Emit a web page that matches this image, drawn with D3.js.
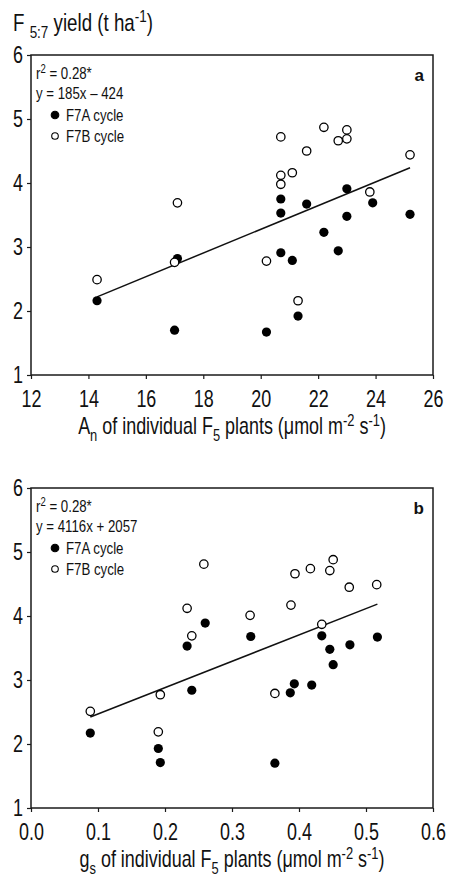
<!DOCTYPE html>
<html>
<head>
<meta charset="utf-8">
<script src="https://cdn.jsdelivr.net/npm/d3@7"></script>
<style>
    body { margin: 0; background: #fff; }
    text { font-family: "Liberation Sans", Arial, sans-serif; fill: #111; }
</style>
</head>
<body>
<svg id="chart" width="450" height="880"></svg>
<script>
// Panel a: F5:7 yield against A_n of F5 plants
const anF7A = [14.3, 17.1, 20.7, 20.7, 20.7, 21.1, 21.6, 22.2, 22.7, 23.0, 23.0, 23.9, 25.2, 17.0, 20.2, 21.3];
const yieldAnF7A = [2.16, 2.82, 3.75, 3.53, 2.91, 2.79, 3.67, 3.23, 2.94, 3.91, 3.48, 3.69, 3.51, 1.7, 1.67, 1.92];
const anF7B = [14.3, 17.1, 17.0, 20.2, 20.7, 20.7, 20.7, 21.1, 21.6, 22.2, 22.7, 23.0, 23.0, 23.8, 25.2, 21.3];
const yieldAnF7B = [2.49, 3.69, 2.76, 2.78, 4.72, 4.12, 3.98, 4.16, 4.5, 4.87, 4.66, 4.83, 4.69, 3.86, 4.44, 2.16];

// Panel b: F5:7 yield against g_s of F5 plants
const gsF7A = [0.26, 0.233, 0.328, 0.24, 0.434, 0.446, 0.451, 0.476, 0.517, 0.393, 0.387, 0.419, 0.0885, 0.19, 0.193, 0.364];
const yieldGsF7A = [3.89, 3.53, 3.68, 2.84, 3.69, 3.48, 3.24, 3.55, 3.67, 2.94, 2.8, 2.92, 2.17, 1.93, 1.71, 1.7];
const gsF7B = [0.258, 0.233, 0.327, 0.394, 0.417, 0.446, 0.451, 0.475, 0.516, 0.388, 0.434, 0.24, 0.0885, 0.193, 0.19, 0.364];
const yieldGsF7B = [4.81, 4.12, 4.01, 4.66, 4.74, 4.71, 4.88, 4.45, 4.49, 4.17, 3.87, 3.69, 2.51, 2.77, 2.19, 2.79];

// regression fits, kg/ha: [slope, intercept]
const fitAn = [185, -424];
const fitGs = [4116, 2057];

const anTicks = [12, 14, 16, 18, 20, 22, 24, 26];
const gsTicks = [0, 0.1, 0.2, 0.3, 0.4, 0.5, 0.6];
const yieldTicks = [1, 2, 3, 4, 5, 6];

const seriesNames = ["F7A cycle", "F7B cycle"];

// no condensed font installed, so squeeze Liberation Sans horizontally
const SX = 0.78;

const svg = d3.select("#chart");

// text with sub / superscript pieces: [[text, "sub" | "sup" | undefined], ...]
const richText = (sel, parts, fontSize) => {
    let offset = 0;
    parts.forEach(([str, kind]) => {
        const target = kind == "sub" ? fontSize * 0.3 : kind == "sup" ? -fontSize * 0.36 : 0;
        sel.append("tspan")
            .attr("dy", target - offset)
            .attr("font-size", kind ? fontSize * 0.72 : fontSize)
            .text(str);
        offset = target;
    });
    return sel;
};

// narrow text placed at x, y
const narrowText = (parent, x, y) =>
    parent.append("text").attr("transform", `translate(${x},${y}) scale(${SX},1)`);

const drawPanel = (opts) => {
    const { top, bottom, left, right, xDomain, xTicks, xFormat, f7aX, f7aY, f7bX, f7bY, fit, fitText, label, xTitle } = opts;

    const g = svg.append("g").attr("class", "panel");

    const xScale = d3.scaleLinear().domain(xDomain).range([left, right]);
    const yScale = d3.scaleLinear().domain([1, 6]).range([bottom, top]);

    // frame
    g.append("rect")
        .attr("x", left)
        .attr("y", top)
        .attr("width", right - left)
        .attr("height", bottom - top)
        .attr("fill", "none")
        .attr("stroke", "#1a1a1a")
        .attr("stroke-width", 1.5);

    const xAxis = g
        .append("g")
        .attr("class", "x-axis")
        .attr("transform", `translate(0,${bottom})`)
        .call(d3.axisBottom(xScale).tickValues(xTicks).tickFormat(xFormat).tickSize(4).tickPadding(12).tickSizeOuter(0));
    xAxis.select(".domain").remove();
    xAxis.selectAll("line").attr("stroke", "#1a1a1a").attr("stroke-width", 1.2);
    xAxis
        .selectAll("text")
        .attr("font-size", 23)
        .attr("fill", "#111")
        .attr("font-family", null)
        .attr("transform", `scale(${SX},1)`);

    const yAxis = g
        .append("g")
        .attr("class", "y-axis")
        .attr("transform", `translate(${left},0)`)
        .call(d3.axisLeft(yScale).tickValues(yieldTicks).tickFormat(d3.format("d")).tickSize(4).tickPadding(4).tickSizeOuter(0));
    yAxis.select(".domain").remove();
    yAxis.selectAll("line").attr("stroke", "#1a1a1a").attr("stroke-width", 1.2);
    yAxis
        .selectAll("text")
        .attr("font-size", 23)
        .attr("fill", "#111")
        .attr("font-family", null)
        .attr("x", -8 / SX)
        .attr("transform", `scale(${SX},1)`);

    // regression line over the data range
    const lineX = d3.extent([...f7aX, ...f7bX]);
    g.append("line")
        .attr("x1", xScale(lineX[0]))
        .attr("y1", yScale((fit[0] * lineX[0] + fit[1]) / 1000))
        .attr("x2", xScale(lineX[1]))
        .attr("y2", yScale((fit[0] * lineX[1] + fit[1]) / 1000))
        .attr("stroke", "#111")
        .attr("stroke-width", 1.5);

    g.selectAll(".dot-a")
        .data(f7aX.map((x, i) => [x, f7aY[i]]))
        .enter()
        .append("circle")
        .attr("class", "dot-a")
        .attr("cx", (d) => xScale(d[0]))
        .attr("cy", (d) => yScale(d[1]))
        .attr("r", 4.6)
        .attr("fill", "#000");

    g.selectAll(".dot-b")
        .data(f7bX.map((x, i) => [x, f7bY[i]]))
        .enter()
        .append("circle")
        .attr("class", "dot-b")
        .attr("cx", (d) => xScale(d[0]))
        .attr("cy", (d) => yScale(d[1]))
        .attr("r", 4.2)
        .attr("fill", "#fff")
        .attr("stroke", "#000")
        .attr("stroke-width", 1.3);

    // stats and legend block
    const textX = left + 5;
    richText(narrowText(g, textX, top + 24), [["r"], ["2", "sup"], [" = 0.28*"]], 17);
    narrowText(g, textX, top + 44).attr("font-size", 17).text(fitText);

    seriesNames.forEach((name, i) => {
        const ly = top + 66 + i * 21;
        g.append("circle")
            .attr("cx", left + 24)
            .attr("cy", ly - 6)
            .attr("r", i == 0 ? 3.8 : 3.3)
            .attr("fill", i == 0 ? "#000" : "#fff")
            .attr("stroke", "#000")
            .attr("stroke-width", 1.1);
        narrowText(g, left + 35, ly).attr("font-size", 17).text(name);
    });

    g.append("text")
        .attr("x", right - 9)
        .attr("y", top + 26)
        .attr("text-anchor", "end")
        .attr("font-weight", "bold")
        .attr("font-size", 17)
        .text(label);

    richText(narrowText(g, (left + right) / 2, bottom + 59).attr("text-anchor", "middle"), xTitle, 23);
};

// y axis title above panel a
richText(narrowText(svg, 13, 31), [["F "], ["5:7", "sub"], [" yield (t ha"], ["-1", "sup"], [")"]], 24);

drawPanel({
    top: 55,
    bottom: 375,
    left: 31,
    right: 433,
    xDomain: [12, 26],
    xTicks: anTicks,
    xFormat: d3.format("d"),
    f7aX: anF7A,
    f7aY: yieldAnF7A,
    f7bX: anF7B,
    f7bY: yieldAnF7B,
    fit: fitAn,
    fitText: "y = 185x \u2013 424",
    label: "a",
    xTitle: [["A"], ["n", "sub"], [" of individual F"], ["5", "sub"], [" plants (\u03bcmol m"], ["-2", "sup"], [" s"], ["-1", "sup"], [")"]]
});

drawPanel({
    top: 488,
    bottom: 808,
    left: 31,
    right: 433,
    xDomain: [0, 0.6],
    xTicks: gsTicks,
    xFormat: d3.format(".1f"),
    f7aX: gsF7A,
    f7aY: yieldGsF7A,
    f7bX: gsF7B,
    f7bY: yieldGsF7B,
    fit: fitGs,
    fitText: "y = 4116x + 2057",
    label: "b",
    xTitle: [["g"], ["s", "sub"], [" of individual F"], ["5", "sub"], [" plants (\u03bcmol m"], ["-2", "sup"], [" s"], ["-1", "sup"], [")"]]
});
</script>
</body>
</html>
